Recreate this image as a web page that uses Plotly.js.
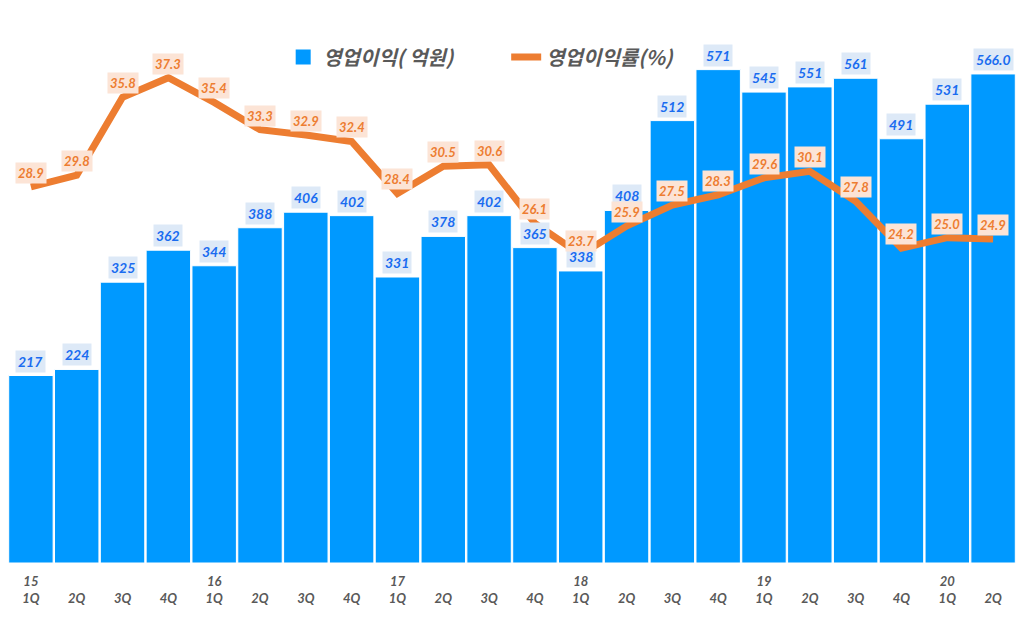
<!DOCTYPE html>
<html>
<head>
<meta charset="utf-8">
<script src="https://cdn.plot.ly/plotly-3.0.1.min.js"></script>
<style>html,body{margin:0;padding:0;background:#fff}#chart{width:1024px;height:618px}</style>
</head>
<body>
<div id="chart"></div>
<script>
const categories = ['15-1Q','15-2Q','15-3Q','15-4Q','16-1Q','16-2Q','16-3Q','16-4Q','17-1Q','17-2Q','17-3Q','17-4Q','18-1Q','18-2Q','18-3Q','18-4Q','19-1Q','19-2Q','19-3Q','19-4Q','20-1Q','20-2Q'];
const tickLabels = ['15<br>1Q','\u00a0<br>2Q','\u00a0<br>3Q','\u00a0<br>4Q','16<br>1Q','\u00a0<br>2Q','\u00a0<br>3Q','\u00a0<br>4Q','17<br>1Q','\u00a0<br>2Q','\u00a0<br>3Q','\u00a0<br>4Q','18<br>1Q','\u00a0<br>2Q','\u00a0<br>3Q','\u00a0<br>4Q','19<br>1Q','\u00a0<br>2Q','\u00a0<br>3Q','\u00a0<br>4Q','20<br>1Q','\u00a0<br>2Q'];
const operatingProfit = [217,224,325,362,344,388,406,402,331,378,402,365,338,408,512,571,545,551,561,491,531,566.0];
const profitLabels = ['217','224','325','362','344','388','406','402','331','378','402','365','338','408','512','571','545','551','561','491','531','566.0'];
const operatingMargin = [28.9,29.8,35.8,37.3,35.4,33.3,32.9,32.4,28.4,30.5,30.6,26.1,23.7,25.9,27.5,28.3,29.6,30.1,27.8,24.2,25.0,24.9];
const seriesNames = ['영업이익( 억원)','영업이익률(%)'];

const numFont = {family:'Lato, "Liberation Sans", sans-serif', size:14, weight:'bold', style:'italic'};

const traces = [
  {type:'bar', x:categories, y:operatingProfit, name:seriesNames[0], showlegend:false,
   marker:{color:'#0099ff', line:{color:'#ffffff', width:1}}, hoverinfo:'skip'},
  {type:'scatter', mode:'markers', x:[null], y:[null], name:seriesNames[0], showlegend:true,
   marker:{color:'#0099ff', symbol:'square', size:15}, hoverinfo:'skip'},
  {type:'scatter', mode:'lines', x:categories, y:operatingMargin, name:seriesNames[1], yaxis:'y2',
   line:{color:'#ed7d31', width:7}, hoverinfo:'skip'}
];

const annotations = [];
categories.forEach((c,i)=>{
  annotations.push({x:c, y:operatingProfit[i], yref:'y', xref:'x', text:profitLabels[i], showarrow:false,
    yanchor:'bottom', yshift:3, bgcolor:'#dde9f7', borderpad:2,
    font:Object.assign({}, numFont, {color:'#1a6cf0'})});
  annotations.push({x:c, y:operatingMargin[i], yref:'y2', xref:'x', text:operatingMargin[i].toFixed(1), showarrow:false,
    yanchor:'bottom', yshift:3, bgcolor:'#fce4d6', borderpad:2,
    font:Object.assign({}, numFont, {color:'#ed7d31', size:13})});
});

const layout = {
  width:1024, height:618,
  margin:{l:8, r:8, t:10, b:55},
  paper_bgcolor:'#ffffff', plot_bgcolor:'#ffffff',
  bargap:0.03,
  showlegend:true,
  legend:{orientation:'h', x:0.273, xanchor:'left', y:0.915, yanchor:'middle', bgcolor:'rgba(0,0,0,0)',
    font:{family:'"Noto Sans CJK KR", sans-serif', size:20, color:'#595959', weight:'bold', style:'italic'},
    itemwidth:30, entrywidth:178, traceorder:'normal'},
  xaxis:{type:'category', tickmode:'array', tickvals:categories, ticktext:tickLabels,
    showgrid:false, zeroline:false, showline:false, ticks:'', ticklabelstandoff:9,
    tickfont:{family:'Lato, "Liberation Sans", sans-serif', size:13, color:'#595959', weight:'bold', style:'italic'}},
  yaxis:{range:[0,640], visible:false, showgrid:false, zeroline:false},
  yaxis2:{range:[0,42.5], overlaying:'y', side:'right', visible:false, showgrid:false, zeroline:false},
  annotations:annotations
};

Plotly.newPlot('chart', traces, layout, {displayModeBar:false, staticPlot:true});
</script>
</body>
</html>
